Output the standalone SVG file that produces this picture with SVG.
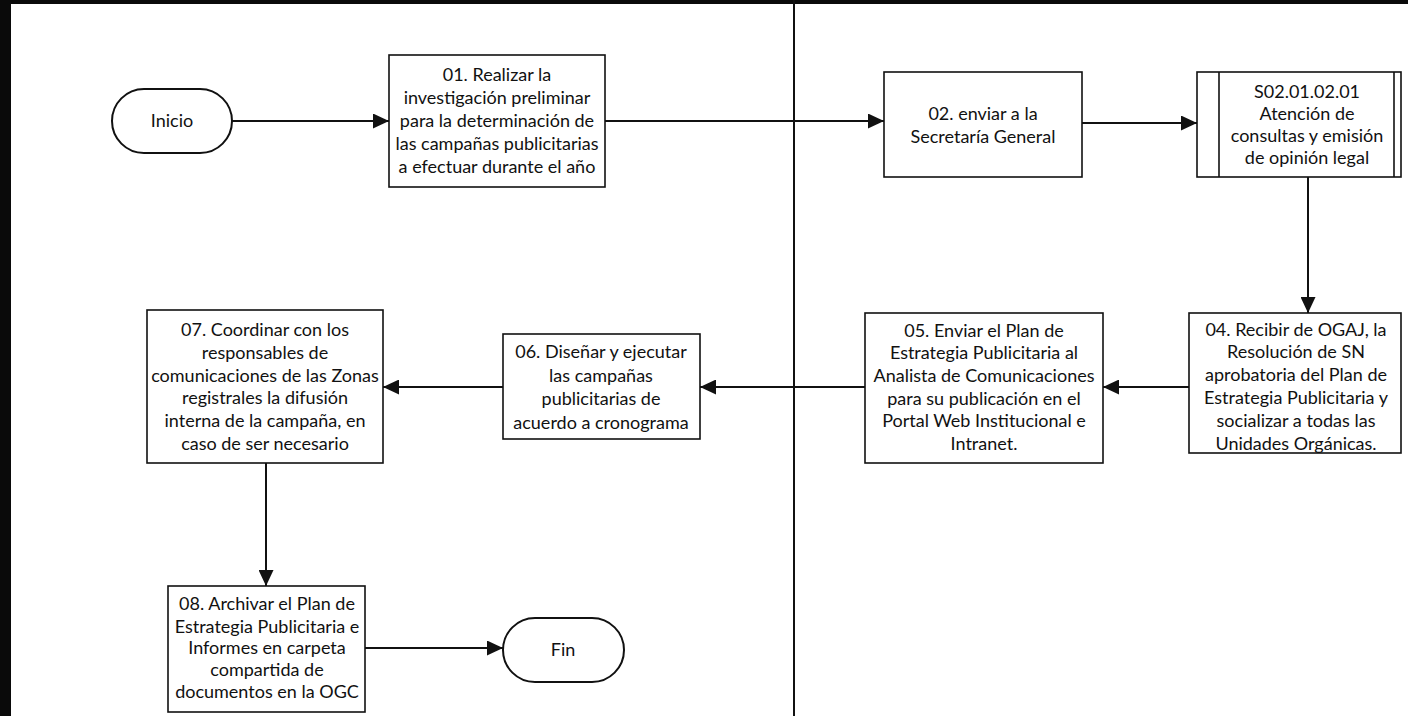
<svg xmlns="http://www.w3.org/2000/svg" width="1408" height="716" viewBox="0 0 1408 716">
<style>
  .box { fill: #ffffff; stroke: #111111; stroke-width: 1.6; }
  .term { fill: #ffffff; stroke: #111111; stroke-width: 2; }
  .t { font-family: Lato, "Liberation Sans", sans-serif; font-size: 18px; fill: #111111; text-anchor: middle; }
  .conn { fill: none; stroke: #111111; stroke-width: 2; }
  .frame { fill: #0a0a0a; }
</style>
<defs>
  <marker id="ah" markerUnits="userSpaceOnUse" markerWidth="17" markerHeight="15" refX="16" refY="7.5" orient="auto">
    <path d="M0,0 L16,7.5 L0,15 Z" fill="#111111"/>
  </marker>
</defs>
<rect x="0" y="0" width="1408" height="716" fill="#ffffff"/>
<rect class="frame" x="0" y="0" width="1408" height="4"/>
<rect class="frame" x="0" y="0" width="11" height="716"/>
<line x1="794" y1="0" x2="794" y2="716" stroke="#111111" stroke-width="2"/>

<g id="connectors">
  <path class="conn" d="M232,121 H389" marker-end="url(#ah)"/>
  <path class="conn" d="M605,121 H884" marker-end="url(#ah)"/>
  <path class="conn" d="M1082,123 H1197" marker-end="url(#ah)"/>
  <path class="conn" d="M1308,177 V313" marker-end="url(#ah)"/>
  <path class="conn" d="M1189,387 H1103" marker-end="url(#ah)"/>
  <path class="conn" d="M865,387 H700" marker-end="url(#ah)"/>
  <path class="conn" d="M503,387 H383" marker-end="url(#ah)"/>
  <path class="conn" d="M266,463 V586" marker-end="url(#ah)"/>
  <path class="conn" d="M365,648 H503" marker-end="url(#ah)"/>
</g>

<g id="inicio">
  <rect class="term" x="112" y="89" width="120" height="64" rx="32" ry="32"/>
  <text class="t" x="172" y="127">Inicio</text>
</g>

<g id="n01">
  <rect class="box" x="389" y="55" width="216" height="132"/>
  <text class="t" x="497" y="81">01. Realizar la</text>
  <text class="t" x="497" y="104">investigación preliminar</text>
  <text class="t" x="497" y="127">para la determinación de</text>
  <text class="t" x="497" y="150">las campañas publicitarias</text>
  <text class="t" x="497" y="173">a efectuar durante el año</text>
</g>

<g id="n02">
  <rect class="box" x="884" y="72" width="198" height="105"/>
  <text class="t" x="983" y="120">02. enviar a la</text>
  <text class="t" x="983" y="143">Secretaría General</text>
</g>

<g id="s02">
  <rect class="box" x="1197" y="72" width="204" height="105"/>
  <line x1="1219" y1="72" x2="1219" y2="177" stroke="#111111" stroke-width="1.6"/>
  <line x1="1394" y1="72" x2="1394" y2="177" stroke="#111111" stroke-width="1.6"/>
  <text class="t" x="1307" y="98">S02.01.02.01</text>
  <text class="t" x="1307" y="120">Atención de</text>
  <text class="t" x="1307" y="142">consultas y emisión</text>
  <text class="t" x="1307" y="164">de opinión legal</text>
</g>

<g id="n04">
  <rect class="box" x="1189" y="313" width="212" height="140"/>
  <text class="t" x="1296" y="336">04. Recibir de OGAJ, la</text>
  <text class="t" x="1296" y="358">Resolución de SN</text>
  <text class="t" x="1296" y="381">aprobatoria del Plan de</text>
  <text class="t" x="1296" y="404">Estrategia Publicitaria y</text>
  <text class="t" x="1296" y="427">socializar a todas las</text>
  <text class="t" x="1296" y="450">Unidades Orgánicas.</text>
</g>

<g id="n05">
  <rect class="box" x="865" y="313" width="238" height="150"/>
  <text class="t" x="984" y="337">05. Enviar el  Plan de</text>
  <text class="t" x="984" y="359">Estrategia Publicitaria al</text>
  <text class="t" x="984" y="382">Analista de Comunicaciones</text>
  <text class="t" x="984" y="405">para su publicación en el</text>
  <text class="t" x="984" y="427">Portal Web Institucional e</text>
  <text class="t" x="984" y="450">Intranet.</text>
</g>

<g id="n06">
  <rect class="box" x="503" y="334" width="197" height="105"/>
  <text class="t" x="601" y="358">06. Diseñar y ejecutar</text>
  <text class="t" x="601" y="382">las campañas</text>
  <text class="t" x="601" y="405">publicitarias de</text>
  <text class="t" x="601" y="429">acuerdo a cronograma</text>
</g>

<g id="n07">
  <rect class="box" x="147" y="310" width="236" height="153"/>
  <text class="t" x="265" y="336">07. Coordinar con los</text>
  <text class="t" x="265" y="359">responsables de</text>
  <text class="t" x="265" y="382">comunicaciones de las Zonas</text>
  <text class="t" x="265" y="404">registrales la difusión</text>
  <text class="t" x="265" y="427">interna de la campaña, en</text>
  <text class="t" x="265" y="450">caso de ser necesario</text>
</g>

<g id="n08">
  <rect class="box" x="168" y="586" width="197" height="126"/>
  <text class="t" x="267" y="610">08. Archivar el Plan de</text>
  <text class="t" x="267" y="633">Estrategia Publicitaria e</text>
  <text class="t" x="267" y="654">Informes en carpeta</text>
  <text class="t" x="267" y="676">compartida de</text>
  <text class="t" x="267" y="698">documentos en la OGC</text>
</g>

<g id="fin">
  <rect class="term" x="503" y="618" width="121" height="64" rx="32" ry="32"/>
  <text class="t" x="563" y="656">Fin</text>
</g>
</svg>
